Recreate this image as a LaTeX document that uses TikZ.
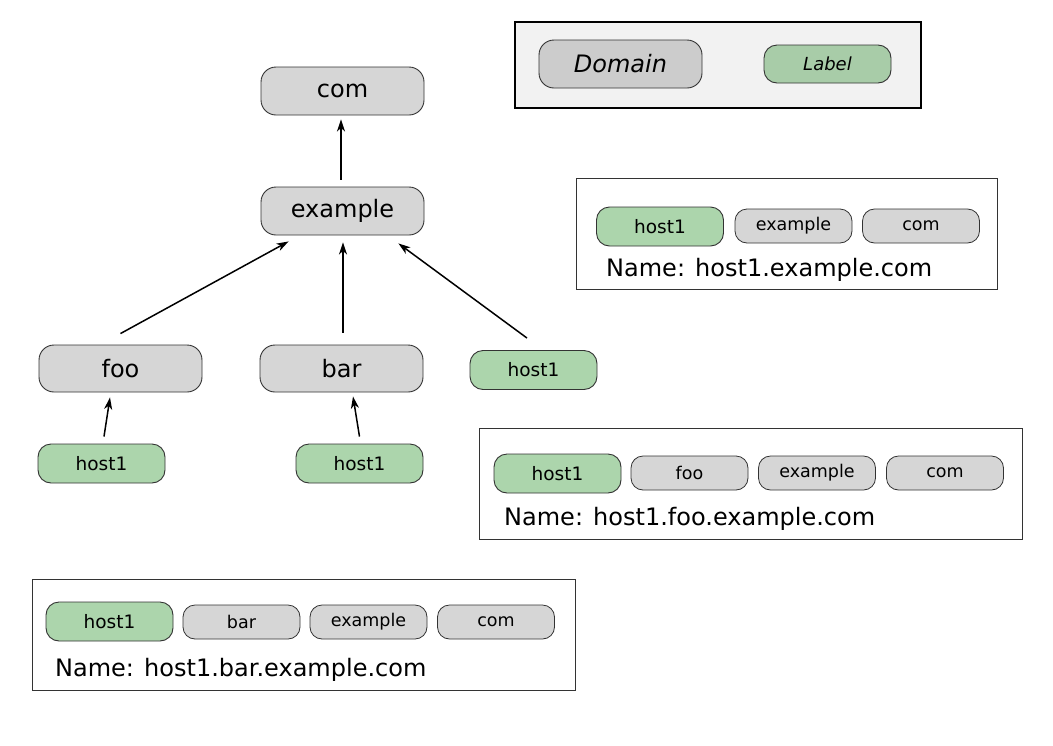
\documentclass[tikz,border=0pt]{standalone}
\usepackage{fontspec}
\setmainfont{DejaVu Sans}
\usetikzlibrary{arrows.meta}
\definecolor{domgray}{HTML}{D6D6D6}
\definecolor{leggray}{HTML}{CCCCCC}
\definecolor{labgreen}{HTML}{ACD5AC}
\definecolor{leggreen}{HTML}{A8CCA8}
\definecolor{legbg}{HTML}{F2F2F2}
\definecolor{edge}{HTML}{333333}
\tikzset{
  dom/.style={draw=edge, line width=0.9pt, fill=domgray, rounded corners=15pt,
    minimum width=163pt, minimum height=48pt, inner sep=0pt,
    font=\fontsize{24}{28}\selectfont},
  lab/.style={draw=edge, line width=0.9pt, fill=labgreen, rounded corners=13pt,
    minimum width=127pt, minimum height=39pt, inner sep=0pt,
    font=\fontsize{18.5}{22}\selectfont},
  part/.style={draw=edge, line width=0.8pt, fill=domgray, rounded corners=12pt,
    minimum width=117pt, minimum height=34pt, inner sep=0pt,
    font=\fontsize{17.5}{21}\selectfont},
  namebox/.style={draw=edge, line width=0.9pt, fill=white, inner sep=0pt},
  nametext/.style={anchor=base west, inner sep=0pt, font=\fontsize{24}{28}\selectfont},
  arr/.style={-{Stealth[length=12pt,width=8pt,inset=3.5pt]}, line width=1.5pt},
}
\begin{document}
\begin{tikzpicture}[x=1pt,y=-1pt]
\useasboundingbox (0,0) rectangle (1053,745);
% legend
\node[draw=black, line width=1.8pt, fill=legbg, minimum width=406pt, minimum height=86pt, inner sep=0pt] (legend) at (718,65) {};
\node[dom, fill=leggray] (legdom) at (620.5,64) {\itshape Domain};
\node[lab, fill=leggreen, minimum height=38pt, font=\fontsize{18}{22}\selectfont] (leglab) at (827.5,64) {\itshape Label};
% tree
\node[dom] (com) at (342.5,91) {com};
\node[dom] (example) at (342.5,211) {example};
\node[dom, minimum height=47pt] (foo) at (120.5,368.5) {foo};
\node[dom, minimum height=47pt] (bar) at (341.5,368.5) {bar};
\node[lab] (hr) at (533.5,370) {host1};
\node[lab] (hfoo) at (101.5,463.5) {host1};
\node[lab] (hbar) at (359.5,463.5) {host1};
\draw[arr] ([xshift=-1.5pt,yshift=7pt]example.north) -- ([xshift=-1.5pt,yshift=-4pt]com.south);
\draw[arr] ([yshift=11pt]foo.north) -- ([xshift=28pt,yshift=-6pt]example.south west);
\draw[arr] ([xshift=1.5pt,yshift=12pt]bar.north) -- ([xshift=0.5pt,yshift=-7pt]example.south);
\draw[arr] ([xshift=-6.5pt,yshift=12pt]hr.north) -- ([xshift=-26pt,yshift=-8pt]example.south east);
\draw[arr] ([xshift=2.5pt,yshift=7pt]hfoo.north) -- ([xshift=-10.5pt,yshift=-5pt]foo.south);
\draw[arr] ([yshift=7pt]hbar.north) -- ([xshift=11.5pt,yshift=-4pt]bar.south);
% name box 1
\node[namebox, minimum width=421pt, minimum height=111pt] (nb1) at (786.5,233.5) {};
\node[lab] (nb1a) at (660,226.5) {host1};
\node[part] (nb1b) at (793.5,226) {example};
\node[part] (nb1c) at (921,226) {com};
\node[nametext] (nb1t) at (606,276) {Name: host1.example.com};
% name box 2
\node[namebox, minimum width=543pt, minimum height=111pt] (nb2) at (750.5,483.5) {};
\node[lab] (nb2a) at (557.5,473.5) {host1};
\node[part] (nb2b) at (689.5,473) {foo};
\node[part] (nb2c) at (817,473) {example};
\node[part] (nb2d) at (945,473) {com};
\node[nametext] (nb2t) at (504,525) {Name: host1.foo.example.com};
% name box 3
\node[namebox, minimum width=543pt, minimum height=111pt] (nb3) at (303.5,634.5) {};
\node[lab] (nb3a) at (109.5,621.5) {host1};
\node[part] (nb3b) at (241.5,622) {bar};
\node[part] (nb3c) at (368.5,622) {example};
\node[part] (nb3d) at (496,622) {com};
\node[nametext] (nb3t) at (55,676) {Name: host1.bar.example.com};
\end{tikzpicture}
\end{document}
